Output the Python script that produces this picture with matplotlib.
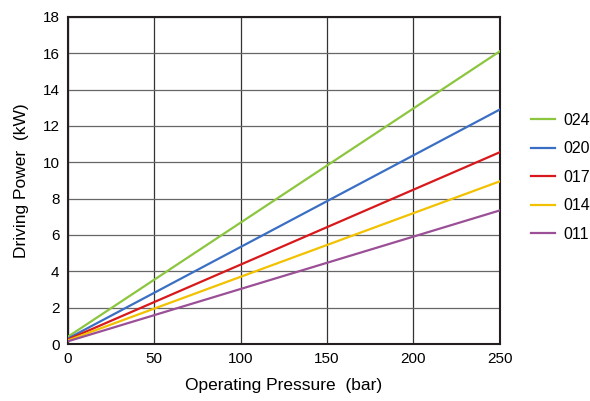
import matplotlib
matplotlib.use('Agg')
import matplotlib.pyplot as plt

plt.rcParams['font.family'] = ['Liberation Sans', 'DejaVu Sans']

# Operating pressure (bar) at the two line ends
pressure = [0, 250]

# Driving power (kW) per model
models = ['024', '020', '017', '014', '011']
power = {
    '024': [0.40, 16.1],
    '020': [0.30, 12.9],
    '017': [0.25, 10.55],
    '014': [0.20, 8.95],
    '011': [0.15, 7.35],
}
colors = ['#8cc63f', '#3a6fc4', '#d7191c', '#f2c100', '#9b4f96']

fig = plt.figure(figsize=(5.9, 4.01), dpi=100)
ax = fig.add_axes([0.115, 0.142, 0.732, 0.816])

for m, c in zip(models, colors):
    ax.plot(pressure, power[m], color=c, lw=1.6, label=m, zorder=3)

ax.set_xlim(0, 250)
ax.set_ylim(0, 18)
ax.set_xticks([0, 50, 100, 150, 200, 250])
ax.set_yticks(range(0, 19, 2))
ax.tick_params(length=0, labelsize=11, pad=6)
ax.grid(axis='x', color='#333333', lw=0.9)
ax.grid(axis='y', color='#666666', lw=0.9)
for s in ax.spines.values():
    s.set_color('#231f20')
    s.set_linewidth(1.5)

ax.set_xlabel('Operating Pressure  (bar)', fontsize=12.5, labelpad=8)
ax.set_ylabel('Driving Power  (kW)', fontsize=12.5, labelpad=10)

ax.legend(loc='center left', bbox_to_anchor=(1.072, 0.51), frameon=False,
          fontsize=11.5, handlelength=1.5, handletextpad=0.55, labelspacing=0.85,
          borderpad=0, borderaxespad=0)

fig.savefig('out.png', dpi=100)
